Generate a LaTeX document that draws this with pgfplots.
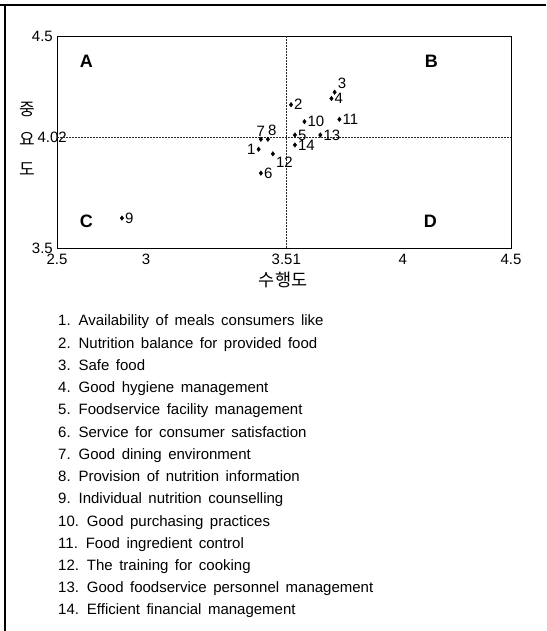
\documentclass[border=0pt]{standalone}
\usepackage{pgfplots}
\pgfplotsset{compat=1.18}
\usepackage{fontspec}
\setmainfont{Liberation Sans}
\newfontfamily\kr{Noto Sans CJK KR}

\pgfplotsset{pt/.style={only marks, mark=diamond*, mark size=2.3pt, black,
  nodes near coords, point meta=explicit symbolic,
  every node near coord/.append style={anchor=#1, inner sep=3pt, font=\fontsize{15}{15}\selectfont}}}

\begin{document}
\begin{tikzpicture}[x=1pt,y=1pt]
\useasboundingbox (0,0) rectangle (546,631);
\draw[line width=2.5pt] (0,626) -- (546,626);
\draw[line width=2.5pt] (5,0) -- (5,627);
\begin{axis}[
  at={(57pt,383pt)}, anchor=south west,
  scale only axis, width=454pt, height=212pt,
  xmin=2.5, xmax=4.5, ymin=3.5, ymax=4.5,
  xtick={2.5,2.892,3.51,4.023,4.5},
  xticklabels={2.5,3,3.51,4,4.5},
  ytick={3.5,4.5}, yticklabels={3.5,4.5},
  extra y ticks={4.02}, extra y tick labels={4.02},
  extra y tick style={yticklabel style={xshift=14pt}},
  major tick length=0pt, tick style={draw=none},
  axis line style={line width=0.7pt},
  ticklabel style={font=\fontsize{15}{15}\selectfont},
  /pgf/number format/assume math mode=true,
  xticklabel style={anchor=north, inner sep=0pt, yshift=-6pt},
  yticklabel style={anchor=east, inner sep=0pt, xshift=-4pt},
  xlabel={\kr 수행도},
  xlabel style={at={(axis description cs:0.498,-0.151)}, anchor=center, font=\fontsize{17.5}{17.5}\selectfont},
  clip=false,
]
\addplot[black!85, line width=0.6pt, dash pattern=on 2pt off 1pt] coordinates {(3.51,3.5) (3.51,4.5)};
\addplot[black!85, line width=0.6pt, dash pattern=on 2pt off 1pt] coordinates {(2.5,4.02) (4.5,4.02)};
\addplot[pt=east] table[meta=lab] {
x y lab
3.388 3.966 1
};
\addplot[pt=west] table[meta=lab] {
x y lab
3.531 4.176 2
3.709 4.205 4
3.548 4.033 5
3.398 3.853 6
2.786 3.641 9
3.590 4.096 10
3.744 4.107 11
3.660 4.033 13
3.548 3.986 14
};
\addplot[pt=south west] table[meta=lab] {
x y lab
3.723 4.235 3
};
\addplot[pt=south] table[meta=lab] {
x y lab
3.398 4.013 7
};
\addplot[pt=south west, every node near coord/.append style={inner xsep=0pt}] table[meta=lab] {
x y lab
3.429 4.013 8
};
\addplot[pt=north west] table[meta=lab] {
x y lab
3.451 3.944 12
};
\node[font=\bfseries\fontsize{18}{18}\selectfont] at (axis cs:2.629,4.381) {A};
\node[font=\bfseries\fontsize{18}{18}\selectfont] at (axis cs:4.149,4.381) {B};
\node[font=\bfseries\fontsize{18}{18}\selectfont] at (axis cs:2.629,3.625) {C};
\node[font=\bfseries\fontsize{18}{18}\selectfont] at (axis cs:4.145,3.625) {D};
\node[font=\kr\fontsize{17}{17}\selectfont, align=center, inner sep=0pt] at (axis description cs:-0.066,0.515)
  {중\\[13pt]요\\[13pt]도};
\end{axis}
\foreach \i/\t in {1/{1. Availability of meals consumers like},
  2/{2. Nutrition balance for provided food},
  3/{3. Safe food},
  4/{4. Good hygiene management},
  5/{5. Foodservice facility management},
  6/{6. Service for consumer satisfaction},
  7/{7. Good dining environment},
  8/{8. Provision of nutrition information},
  9/{9. Individual nutrition counselling},
  10/{10. Good purchasing practices},
  11/{11. Food ingredient control},
  12/{12. The training for cooking},
  13/{13. Good foodservice personnel management},
  14/{14. Efficient financial management}}
{
  \node[anchor=base west, inner sep=0pt, font=\fontsize{15}{15}\selectfont] at (58, {631-326-22.23*(\i-1)}) {\spaceskip=6.5pt\relax\t};
}
\end{tikzpicture}
\end{document}
